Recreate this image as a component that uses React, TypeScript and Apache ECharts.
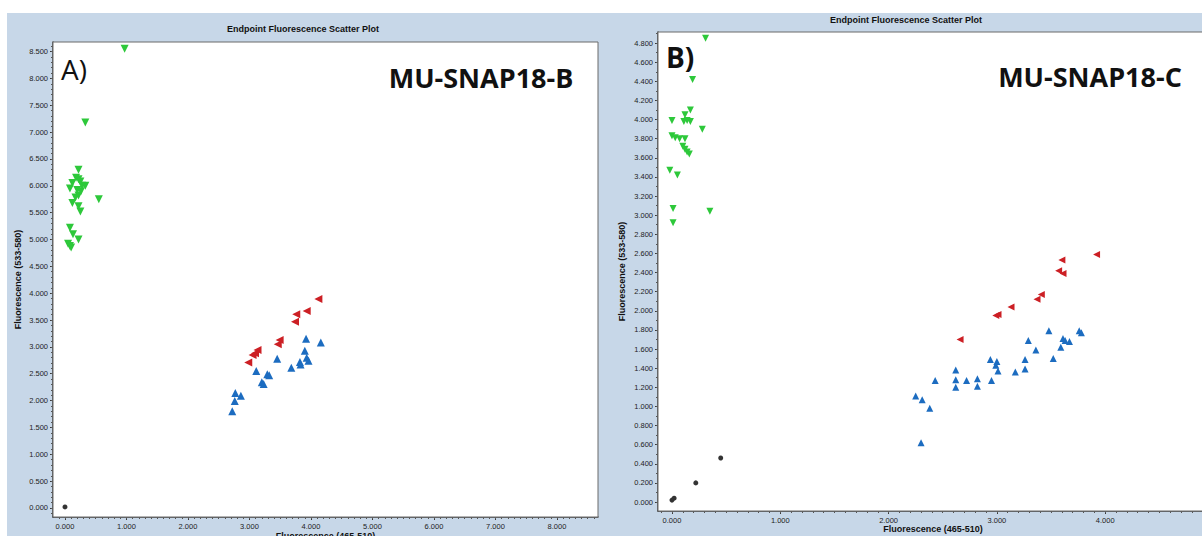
import React, { useEffect, useRef } from "react";
import * as echarts from "echarts";

const panelTitle = "Endpoint Fluorescence Scatter Plot";
const xAxisTitle = "Fluorescence (465-510)";
const yAxisTitle = "Fluorescence (533-580)";
const leftTag = "A)";
const rightTag = "B)";
const leftAssay = "MU-SNAP18-B";
const rightAssay = "MU-SNAP18-C";

const leftXTicks = [0, 1, 2, 3, 4, 5, 6, 7, 8];
const leftYTicks = [0, 0.5, 1, 1.5, 2, 2.5, 3, 3.5, 4, 4.5, 5, 5.5, 6, 6.5, 7, 7.5, 8, 8.5];
const rightXTicks = [0, 1, 2, 3, 4];
const rightYTicks = [0, 0.2, 0.4, 0.6, 0.8, 1.0, 1.2, 1.4, 1.6, 1.8, 2.0, 2.2, 2.4, 2.6, 2.8, 3.0, 3.2, 3.4, 3.6, 3.8, 4.0, 4.2, 4.4, 4.6, 4.8];

// Panel A (MU-SNAP18-B)
const leftGreen = [
  [0.97, 8.55], [0.33, 7.18], [0.22, 6.30], [0.18, 6.15], [0.22, 6.12], [0.25, 6.08],
  [0.12, 6.05], [0.28, 6.00], [0.33, 6.00], [0.08, 5.95], [0.20, 5.92], [0.26, 5.90],
  [0.22, 5.82], [0.17, 5.78], [0.55, 5.75], [0.12, 5.68], [0.22, 5.62], [0.25, 5.52],
  [0.08, 5.22], [0.13, 5.10], [0.22, 5.00], [0.05, 4.92], [0.08, 4.88], [0.10, 4.85],
];
const leftRed = [
  [2.98, 2.71], [3.05, 2.85], [3.09, 2.88], [3.13, 2.94], [3.46, 3.05], [3.49, 3.13],
  [3.74, 3.47], [3.76, 3.61], [3.93, 3.67], [4.12, 3.89],
];
const leftBlue = [
  [2.72, 1.80], [2.76, 1.99], [2.77, 2.14], [2.86, 2.09], [3.11, 2.55], [3.20, 2.34],
  [3.23, 2.31], [3.29, 2.49], [3.32, 2.47], [3.45, 2.78], [3.68, 2.61], [3.82, 2.72],
  [3.83, 2.67], [3.90, 2.93], [3.92, 3.15], [3.93, 2.80], [3.96, 2.74], [4.16, 3.08],
];
const leftBlack = [[0.0, 0.02]];

// Panel B (MU-SNAP18-C)
const rightGreen = [
  [0.31, 4.85], [0.19, 4.42], [0.17, 4.10], [0.12, 4.05], [0.00, 3.99], [0.11, 3.98],
  [0.14, 3.99], [0.17, 3.98], [0.28, 3.90], [0.00, 3.83], [0.03, 3.81], [0.07, 3.80],
  [0.12, 3.80], [0.10, 3.72], [0.12, 3.69], [0.14, 3.66], [0.16, 3.64], [-0.02, 3.47],
  [0.05, 3.42], [0.01, 3.07], [0.35, 3.04], [0.01, 2.92],
];
const rightRed = [
  [2.66, 1.70], [2.99, 1.95], [3.01, 1.96], [3.13, 2.04], [3.37, 2.12], [3.41, 2.17],
  [3.57, 2.42], [3.61, 2.39], [3.60, 2.53], [3.92, 2.59],
];
const rightBlue = [
  [2.25, 1.11], [2.31, 1.07], [2.38, 0.98], [2.30, 0.62], [2.43, 1.27], [2.62, 1.38],
  [2.62, 1.28], [2.62, 1.20], [2.72, 1.27], [2.82, 1.29], [2.82, 1.21], [2.94, 1.49],
  [2.95, 1.27], [3.00, 1.47], [2.99, 1.43], [3.01, 1.37], [3.17, 1.36], [3.26, 1.49],
  [3.26, 1.39], [3.29, 1.69], [3.36, 1.59], [3.48, 1.79], [3.52, 1.50], [3.59, 1.62],
  [3.61, 1.71], [3.63, 1.69], [3.67, 1.68], [3.76, 1.79], [3.78, 1.77],
];
const rightBlack = [[0.0, 0.02], [0.02, 0.04], [0.22, 0.20], [0.45, 0.46]];

const GREEN = "#2dc83a";
const RED = "#cc1f24";
const BLUE = "#1c6cc0";
const BLACK = "#333333";
const PANEL_BG = "#c7d7e8";

function minorTicks(min: number, max: number, step: number): number[] {
  const out: number[] = [];
  const start = Math.ceil(min / step);
  for (let i = start; i * step <= max + 1e-9; i++) out.push(Number((i * step).toFixed(4)));
  return out;
}

const labelFont = { color: "#222", fontSize: 7.5, fontFamily: "Liberation Sans" };
const nameFont = { color: "#111", fontSize: 9, fontWeight: "bold" as const, fontFamily: "Liberation Sans" };

function mainAxis(dim: "x" | "y", gridIndex: number, min: number, max: number, ticks: number[], name: string, nameGap: number) {
  return {
    type: "value",
    gridIndex,
    min,
    max,
    position: dim === "x" ? "bottom" : "left",
    name,
    nameLocation: "middle",
    nameGap,
    nameMoveOverlap: false,
    nameTextStyle: nameFont,
    axisLine: { show: true, onZero: false, lineStyle: { color: "#3a3a3a", width: 1.5 } },
    axisTick: { show: true, customValues: ticks, length: 3, lineStyle: { color: "#3a3a3a", width: 1 } },
    axisLabel: { ...labelFont, customValues: ticks, margin: 5, formatter: (v: number) => v.toFixed(3) },
    splitLine: { show: false },
  };
}

function minorAxis(dim: "x" | "y", gridIndex: number, min: number, max: number) {
  return {
    type: "value",
    gridIndex,
    min,
    max,
    position: dim === "x" ? "bottom" : "left",
    axisLine: { show: false, onZero: false },
    axisTick: { show: true, customValues: minorTicks(min, max, 0.1), length: 2, lineStyle: { color: "#555", width: 1 } },
    axisLabel: { show: false },
    splitLine: { show: false },
  };
}

function scatter(data: number[][], xi: number, yi: number, symbol: string, rotate: number, size: number, color: string) {
  return {
    type: "scatter",
    xAxisIndex: xi,
    yAxisIndex: yi,
    data,
    symbol,
    symbolRotate: rotate,
    symbolSize: size,
    itemStyle: { color, opacity: 1 },
  };
}

function textEl(text: string, x: number, y: number, font: string, align: string) {
  return {
    type: "text",
    x,
    y,
    z: 100,
    style: { text, font, fill: "#111", align, verticalAlign: "middle", textAlign: align, textVerticalAlign: "middle" },
  };
}

export default function App() {
  const ref = useRef<HTMLDivElement>(null);
  useEffect(() => {
    document.body.style.margin = "0";
    if (!ref.current) return;
    const chart = echarts.init(ref.current, undefined, { renderer: "svg" });

    const LX = [-0.195, 8.667];
    const LY = [-0.168, 8.678];
    const RX = [-0.129, 4.949];
    const RY = [-0.094, 4.916];

    chart.setOption({
      animation: false,
      backgroundColor: "#ffffff",
      grid: [
        { left: 53, top: 42, width: 545, height: 475, show: true, backgroundColor: "#ffffff", borderColor: "#6a6a6a", borderWidth: 1, z: 1, outerBoundsMode: "none", containLabel: false },
        { left: 658, top: 32, width: 550, height: 479, show: true, backgroundColor: "#ffffff", borderColor: "#6a6a6a", borderWidth: 1, z: 1, outerBoundsMode: "none", containLabel: false },
      ],
      xAxis: [
        mainAxis("x", 0, LX[0], LX[1], leftXTicks, xAxisTitle, 14),
        minorAxis("x", 0, LX[0], LX[1]),
        mainAxis("x", 1, RX[0], RX[1], rightXTicks, xAxisTitle, 13),
        minorAxis("x", 1, RX[0], RX[1]),
      ],
      yAxis: [
        mainAxis("y", 0, LY[0], LY[1], leftYTicks, yAxisTitle, 31),
        minorAxis("y", 0, LY[0], LY[1]),
        mainAxis("y", 1, RY[0], RY[1], rightYTicks, yAxisTitle, 32),
        minorAxis("y", 1, RY[0], RY[1]),
      ],
      series: [
        scatter(leftGreen, 0, 0, "triangle", 180, 8, GREEN),
        scatter(leftRed, 0, 0, "triangle", 90, 8, RED),
        scatter(leftBlue, 0, 0, "triangle", 0, 8, BLUE),
        scatter(leftBlack, 0, 0, "circle", 0, 5, BLACK),
        scatter(rightGreen, 2, 2, "triangle", 180, 7, GREEN),
        scatter(rightRed, 2, 2, "triangle", 90, 7, RED),
        scatter(rightBlue, 2, 2, "triangle", 0, 7, BLUE),
        scatter(rightBlack, 2, 2, "circle", 0, 5, BLACK),
      ],
      graphic: [
        { type: "rect", z: -100, shape: { x: 7, y: 13, width: 1195, height: 523 }, style: { fill: PANEL_BG } },
        textEl(panelTitle, 303, 29, 'bold 9px "Liberation Sans"', "center"),
        textEl(panelTitle, 906, 20, 'bold 9px "Liberation Sans"', "center"),
        textEl(leftTag, 61, 69, '28px "Open Sans"', "left"),
        textEl(leftAssay, 481, 77, 'bold 27px "Open Sans"', "center"),
        textEl(rightTag, 666, 57, 'bold 28px "Open Sans"', "left"),
        textEl(rightAssay, 1090, 76, 'bold 27px "Open Sans"', "center"),
      ],
    });
    return () => chart.dispose();
  }, []);
  return <div ref={ref} style={{ width: 1202, height: 536 }} />;
}
